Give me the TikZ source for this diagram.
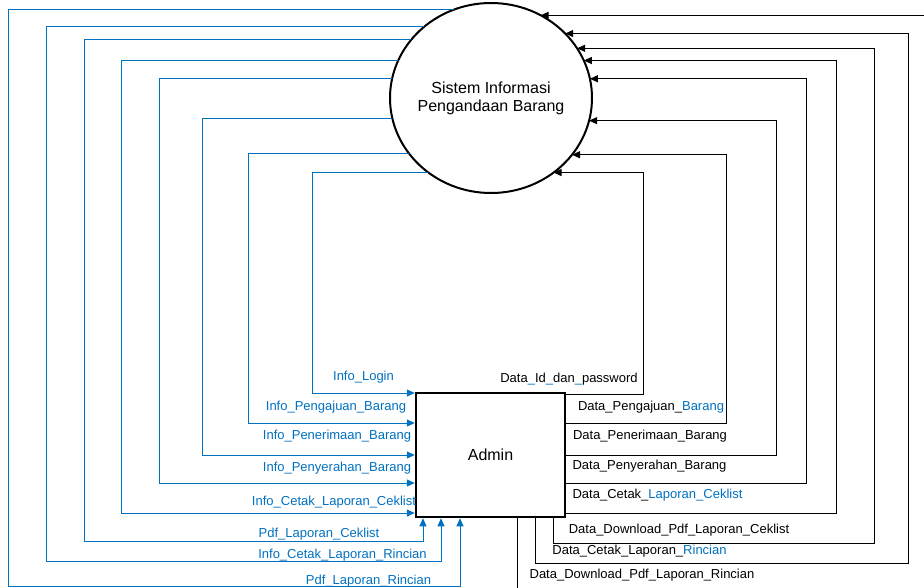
\documentclass[tikz,border=0pt]{standalone}
\usepackage{fontspec}
\setmainfont{Liberation Sans}
\usetikzlibrary{arrows.meta,shapes.geometric}
\definecolor{flowblue}{RGB}{0,112,192}
\begin{document}
\begin{tikzpicture}[x=1pt,y=-1pt,
  bflow/.style={draw=flowblue, line width=1pt},
  dflow/.style={draw=black, line width=1pt},
  tip/.style={-{Triangle[length=8pt,width=7pt]}},
  blab/.style={text=flowblue, inner sep=0pt, font=\fontsize{13}{15}\selectfont, anchor=base},
  dlab/.style={text=black, inner sep=0pt, font=\fontsize{13}{15}\selectfont, anchor=base},
]
\useasboundingbox (0,0) rectangle (924,587);

\node[draw, line width=2pt, ellipse, minimum width=202pt, minimum height=190pt,
      inner sep=0pt, outer sep=0pt] (sys) at (491,98) {};
\node[align=center, inner sep=0pt, font=\fontsize{16}{18}\selectfont]
      (systext) at (sys.center) {Sistem Informasi\\Pengandaan Barang};
\node[draw, line width=2.5pt, minimum width=149pt, minimum height=124pt, inner sep=0pt,
      font=\fontsize{16}{18}\selectfont] (admin) at (490.5,455) {Admin};

% blue flows: system -> admin
\draw[bflow,tip] (sys.230) -| (312,393) -- (admin.west |- 0,393);
\draw[bflow,tip] (sys.214) -| (248,423) -- (admin.west |- 0,423);
\draw[bflow,tip] (sys.192) -| (202,455) -- (admin.west |- 0,455);
\draw[bflow,tip] (sys.169) -| (159,483) -- (admin.west |- 0,483);
\draw[bflow,tip] (sys.158) -| (121,513) -- (admin.west |- 0,513);
\draw[bflow,tip] (sys.144) -| (84,541) -| (admin.south -| 423,0);
\draw[bflow,tip] (sys.133) -| (46,561) -| (admin.south -| 441,0);
\draw[bflow,tip] (sys.113) -| (8,586) -| (admin.south -| 460,0);

% black flows: admin -> system
\draw[dflow,tip] (admin.east |- 0,394) -| (643,0 |- sys.310) -- (sys.310);
\draw[dflow,tip] (admin.east |- 0,423) -| (726,0 |- sys.325) -- (sys.325);
\draw[dflow,tip] (admin.east |- 0,455) -| (776,0 |- sys.347) -- (sys.347);
\draw[dflow,tip] (admin.east |- 0,483) -| (806,0 |- sys.11) -- (sys.11);
\draw[dflow,tip] (admin.east |- 0,513) -| (836,0 |- sys.22) -- (sys.22);
\draw[dflow,tip] (admin.south -| 553,0) -- (553,543) -| (874,0 |- sys.30) -- (sys.30);
\draw[dflow,tip] (admin.south -| 535,0) -- (535,563) -| (908,0 |- sys.41) -- (sys.41);
\coordinate (bt) at (517,592);
\coordinate (rt) at (926,0);
\draw[dflow] (admin.south -| bt) -- (bt);
\draw[dflow,tip] (rt |- sys.59) -- (sys.59);

% blue labels
\node[blab] (l1) at (363.5,380) {Info\_Login};
\node[blab] (l2) at (336,410) {Info\_Pengajuan\_Barang};
\node[blab] (l3) at (337,439) {Info\_Penerimaan\_Barang};
\node[blab] (l4) at (337,471) {Info\_Penyerahan\_Barang};
\node[blab] (l5) at (334,505) {Info\_Cetak\_Laporan\_Ceklist};
\node[blab] (l6) at (319,537) {Pdf\_Laporan\_Ceklist};
\node[blab] (l7) at (342.5,558) {Info\_Cetak\_Laporan\_Rincian};
\node[blab] (l8) at (368.5,584) {Pdf\_Laporan\_Rincian};

% black labels
\node[dlab] (r1) at (569,382) {Data\textcolor{flowblue}{\_}Id\textcolor{flowblue}{\_}dan\textcolor{flowblue}{\_}password};
\node[dlab] (r2) at (651,410) {Data\_Pengajuan\_\textcolor{flowblue}{Barang}};
\node[dlab] (r3) at (650,439) {Data\_Penerimaan\_Barang};
\node[dlab] (r4) at (649.5,469) {Data\_Penyerahan\_Barang};
\node[dlab] (r5) at (657.5,498) {Data\_Cetak\_\textcolor{flowblue}{Laporan\_Ceklist}};
\node[dlab] (r6) at (679,533) {Data\_Download\_Pdf\_Laporan\_Ceklist};
\node[dlab] (r7) at (639.5,554) {Data\_Cetak\_Laporan\_\textcolor{flowblue}{Rincian}};
\node[dlab] (r8) at (642,578) {Data\_Download\_Pdf\_Laporan\_Rincian};
\end{tikzpicture}
\end{document}
